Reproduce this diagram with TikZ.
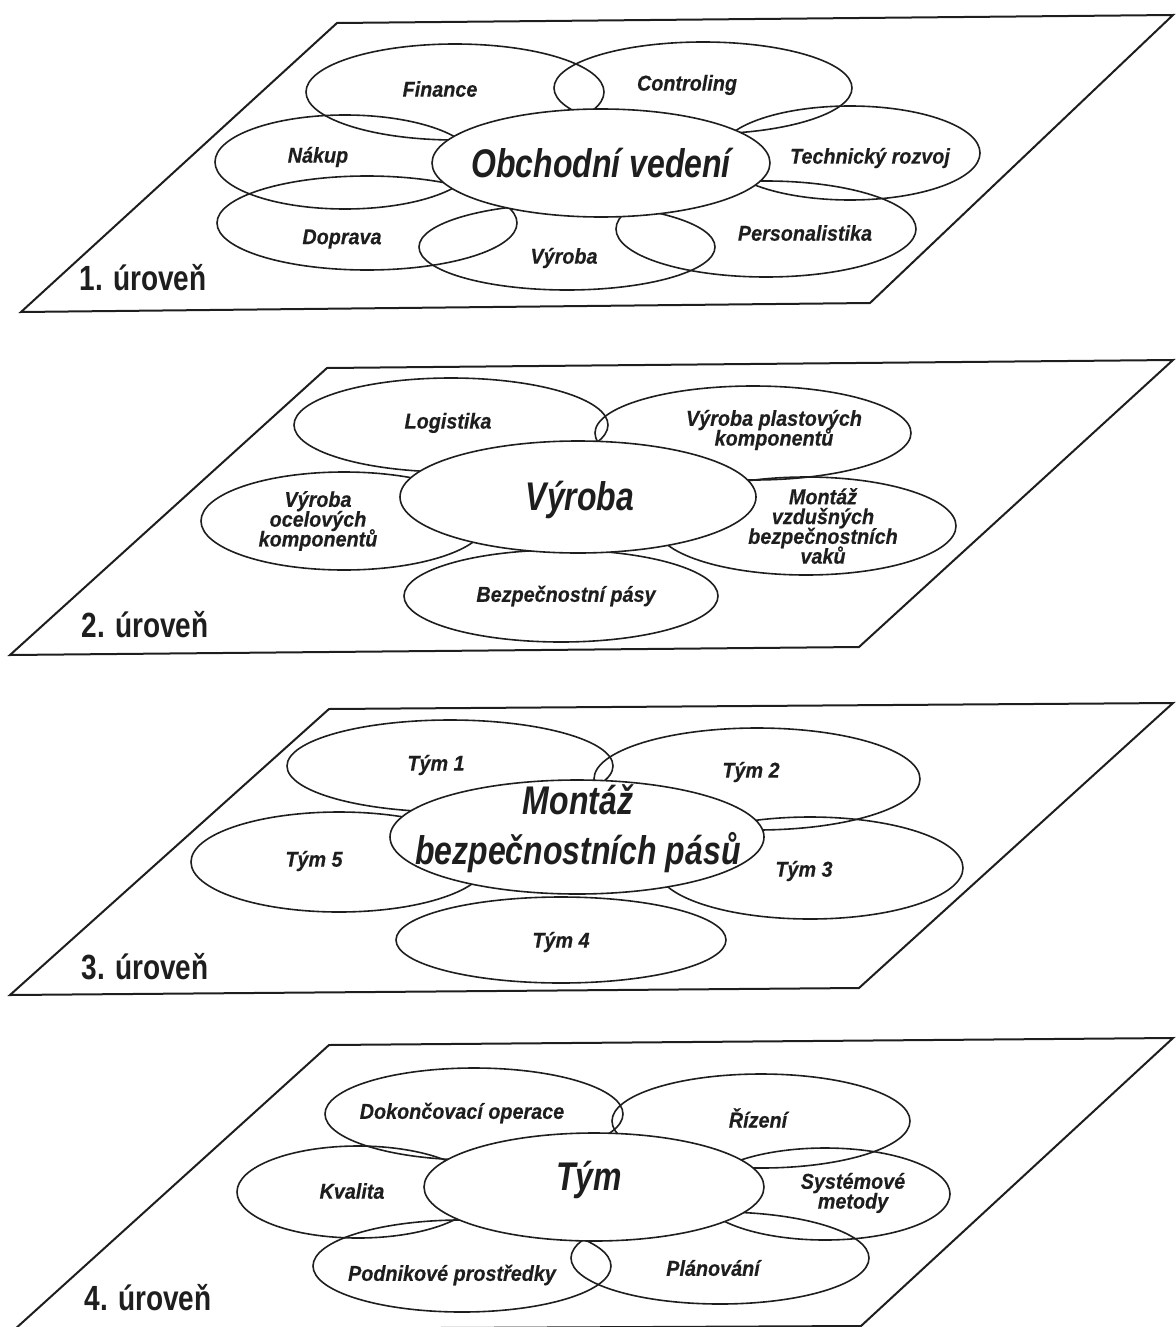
\documentclass[tikz,border=0pt]{standalone}
\usepackage{fontspec}
\setmainfont{Liberation Sans}
\newfontfamily\labfont{Liberation Sans}[FakeStretch=0.92, FakeBold=0.4]
\newfontfamily\bigfont{Liberation Sans}[FakeStretch=0.8]
\usetikzlibrary{shapes.geometric}
\definecolor{ink}{HTML}{1E1E1E}
% lines in stacked labels keep a fixed baseline distance
\newcommand{\evenlines}{\lineskiplimit=-30pt\relax\lineskip=0pt\relax}
% one oval field: name, x, y, width, height
\newcommand{\petal}[5]{\node[field, minimum width=#4pt, minimum height=#5pt] (#1) at (#2,#3) {};}
\newcommand{\corepetal}[5]{\node[core, minimum width=#4pt, minimum height=#5pt] (#1) at (#2,#3) {};}
\begin{document}
\evenlines
\begin{tikzpicture}[x=1pt,y=-1pt,
  plane/.style={draw=ink, line width=2pt, line join=miter},
  field/.style={ellipse, draw=ink, line width=1.6pt, inner sep=0pt},
  core/.style={field, fill=white},
  lab/.style={font=\labfont\bfseries\itshape\fontsize{21.5}{19.8}\selectfont\evenlines, text=ink, align=center, inner sep=0pt},
  big/.style={font=\bigfont\bfseries\itshape\fontsize{40}{50}\selectfont\evenlines, text=ink, align=center, inner sep=0pt},
  lvl/.style={font=\bigfont\bfseries\fontsize{35}{36}\selectfont, text=ink, inner sep=0pt},
]
\useasboundingbox (0,0) rectangle (1175,1327);

% ---------- level 1 ----------
\coordinate (a1) at (337,23);  \coordinate (b1) at (1173,15);
\coordinate (c1) at (870,303); \coordinate (d1) at (21,312);
\draw[plane] (a1) -- (b1) -- (c1) -- (d1) -- cycle;
\petal{fin}{455}{92}{298}{96}
\petal{ctl}{703}{88}{298}{92}
\petal{nak}{345}{162}{260}{94}
\petal{tech}{850}{153}{260}{94}
\petal{dop}{367}{223}{300}{94}
\petal{vyr}{567}{247}{296}{86}
\petal{pers}{766}{229}{300}{96}
\corepetal{obch}{601}{163}{338}{108}
\node[lab] (tfin) at (440,89) {Finance};
\node[lab] (tctl) at (687,85) {Controling};
\node[lab] (tnak) at (318,157) {Nákup};
\node[lab] (ttech) at (870,158) {Technický rozvoj};
\node[lab] (tdop) at (342,239) {Doprava};
\node[lab] (tvyr) at (564,258) {Výroba};
\node[lab] (tpers) at (805,233) {Personalistika};
\node[big] (tobch) at (601,163) {Obchodní vedení};
\node[lvl] (l1) at (143,278) {1. úroveň};

% ---------- level 2 ----------
\coordinate (a2) at (327,368);  \coordinate (b2) at (1173,360);
\coordinate (c2) at (859,647);  \coordinate (d2) at (10,655);
\draw[plane] (a2) -- (b2) -- (c2) -- (d2) -- cycle;
\petal{log}{451}{425}{314}{94}
\petal{plast}{753}{433}{316}{94}
\petal{ocel}{344}{521}{286}{98}
\petal{vaky}{806}{526}{300}{98}
\petal{pasy}{561}{596}{314}{92}
\corepetal{vyr2}{578}{497}{356}{112}
\node[lab] (tlog) at (448,423) {Logistika};
\node[lab] (tplast) at (774,430) {Výroba plastových\\komponentů};
\node[lab] (tocel) at (318,521) {Výroba\\ocelových\\komponentů};
\node[lab] (tvaky) at (823,526) {Montáž\\vzdušných\\bezpečnostních\\vaků};
\node[lab] (tpasy) at (566,596) {Bezpečnostní pásy};
\node[big] (tvyr2) at (580,500) {Výroba};
\node[lvl] (l2) at (145,625) {2. úroveň};

% ---------- level 3 ----------
\coordinate (a3) at (329,709);  \coordinate (b3) at (1173,703);
\coordinate (c3) at (859,988);  \coordinate (d3) at (10,995);
\draw[plane] (a3) -- (b3) -- (c3) -- (d3) -- cycle;
\petal{t1}{450}{766}{326}{92}
\petal{t2}{757}{779}{326}{102}
\petal{t5}{339}{862}{296}{100}
\petal{t3}{810}{868}{306}{102}
\petal{t4}{561}{940}{330}{86}
\corepetal{mont}{577}{837}{374}{114}
\node[lab] (tt1) at (436,765) {Tým 1};
\node[lab] (tt2) at (751,772) {Tým 2};
\node[lab] (tt5) at (314,861) {Tým 5};
\node[lab] (tt3) at (804,871) {Tým 3};
\node[lab] (tt4) at (561,942) {Tým 4};
\node[big] (tmont) at (578,829) {Montáž\\bezpečnostních pásů};
\node[lvl] (l3) at (145,967) {3. úroveň};

% ---------- level 4 (its lower edge runs along the page foot) ----------
\coordinate (a4) at (329,1045);  \coordinate (b4) at (1173,1038);
\coordinate (c4) at (861,1326);  \coordinate (d4) at (14,1330);
\draw[plane] (a4) -- (b4) -- (c4) -- (d4) -- cycle;
\petal{dok}{474}{1114}{298}{92}
\petal{riz}{761}{1121}{298}{94}
\petal{kval}{358}{1192}{242}{92}
\petal{sys}{825}{1194}{250}{92}
\petal{podn}{462}{1266}{298}{92}
\petal{plan}{720}{1258}{298}{92}
\corepetal{tym}{594}{1187}{340}{108}
\node[lab] (tdok) at (462,1113) {Dokončovací operace};
\node[lab] (triz) at (758,1118) {Řízení};
\node[lab] (tkval) at (352,1191) {Kvalita};
\node[lab] (tsys) at (853,1193) {Systémové\\metody};
\node[lab] (tpodn) at (452,1275) {Podnikové prostředky};
\node[lab] (tplan) at (713,1268) {Plánování};
\node[big] (ttym) at (589,1180) {Tým};
\node[lvl] (l4) at (148,1298) {4. úroveň};
\end{tikzpicture}
\end{document}
